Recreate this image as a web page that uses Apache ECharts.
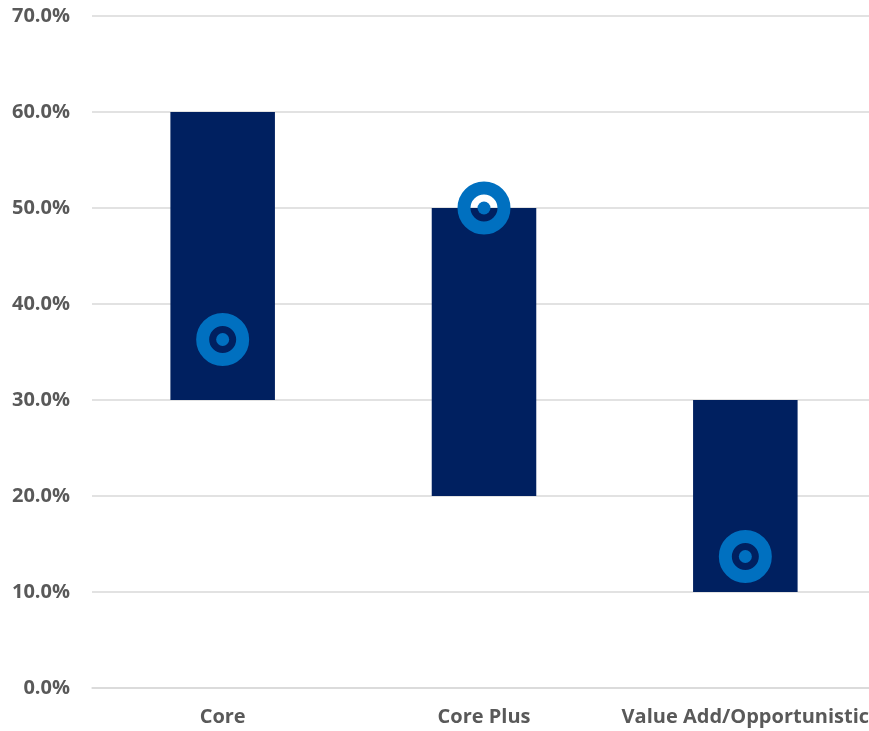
<!DOCTYPE html>
<html>
<head>
<meta charset="utf-8">
<script src="https://cdn.jsdelivr.net/npm/echarts@6/dist/echarts.min.js"></script>
<style>html,body{margin:0;padding:0;background:#fff;overflow:hidden;width:869px;height:731px}#c{width:876px;height:731px}</style>
</head>
<body>
<div id="c"></div>
<script>
var categories = ['Core', 'Core Plus', 'Value Add/Opportunistic'];
var rangeLow = [30, 20, 10];
var rangeHigh = [60, 50, 30];
var current = [36.3, 50.0, 13.7];
var yTicks = [0, 10, 20, 30, 40, 50, 60, 70];

var rangeSpan = rangeHigh.map(function (h, i) { return h - rangeLow[i]; });

var chart = echarts.init(document.getElementById('c'));
var font = '"Open Sans", "Liberation Sans", sans-serif';
chart.setOption({
  animation: false,
  grid: { left: 92, right: 0, top: 16, bottom: 43, containLabel: false },
  xAxis: {
    type: 'category',
    data: categories,
    axisLine: { show: true, lineStyle: { color: '#D9D9D9', width: 1.5 } },
    axisTick: { show: false },
    axisLabel: { color: '#595959', fontWeight: 'bold', fontSize: 20, fontFamily: font, margin: 19, interval: 0, hideOverlap: false }
  },
  yAxis: {
    type: 'value',
    min: yTicks[0],
    max: yTicks[yTicks.length - 1],
    interval: 10,
    axisLine: { show: false },
    axisTick: { show: false },
    splitLine: { lineStyle: { color: '#D9D9D9', width: 1.5 } },
    axisLabel: {
      color: '#595959', fontWeight: 'bold', fontSize: 20, fontFamily: font, margin: 22,
      formatter: function (v) { return v.toFixed(1) + '%'; }
    }
  },
  series: [
    {
      type: 'bar', stack: 'r', data: rangeLow, barWidth: '40%',
      itemStyle: { color: 'transparent' }, silent: true
    },
    {
      type: 'bar', stack: 'r', data: rangeSpan, barWidth: '40%',
      itemStyle: { color: '#002060' }
    },
    {
      type: 'scatter', data: current, symbol: 'circle', symbolSize: 40,
      itemStyle: { color: 'transparent', borderColor: '#0070C0', borderWidth: 13, opacity: 1 },
      z: 5
    },
    {
      type: 'scatter', data: current, symbol: 'circle', symbolSize: 13,
      itemStyle: { color: '#0070C0', opacity: 1 },
      z: 6
    }
  ]
});
</script>
</body>
</html>
